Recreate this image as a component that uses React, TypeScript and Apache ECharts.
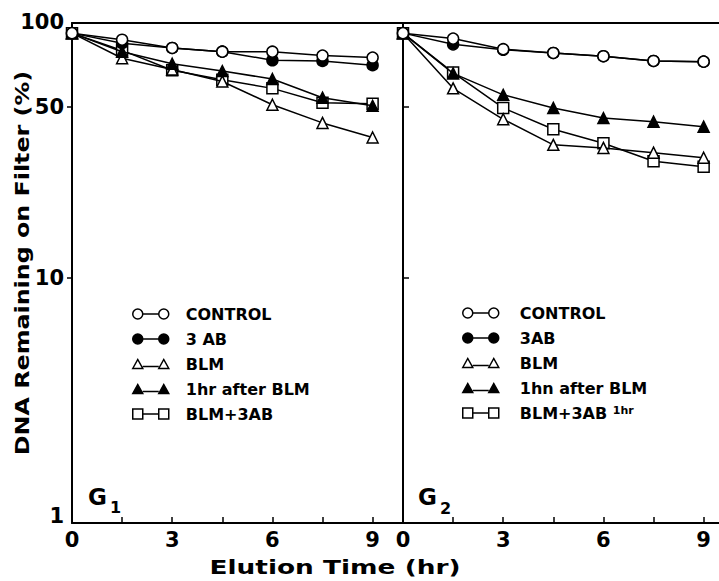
import React, { useEffect, useRef } from 'react';
import * as echarts from 'echarts';

// Elution times (hr)
const times = [0, 1.5, 3, 4.5, 6, 7.5, 9];

// G1 panel (% DNA remaining on filter)
const g1Control = [100, 94, 87, 84, 84, 81, 79.5];
const g1AB3 = [100, 91, 87, 84, 77.5, 77, 74];
const g1BLM = [100, 79, 71, 63.5, 51, 43, 37.5];
const g1After = [100, 84, 75, 70, 65, 54.5, 50.5];
const g1BLMAB = [100, 85, 70.5, 64.5, 59.5, 52, 51.5];

// G2 panel
const g2Control = [100, 95, 86, 83, 80.5, 77, 76.5];
const g2AB3 = [100, 90, 85.5, 83, 80.5, 77, 76.5];
const g2BLM = [100, 59.5, 44.5, 35, 34, 32.5, 31];
const g2After = [100, 68.5, 56, 49.5, 45, 43.5, 41.5];
const g2BLMAB = [100, 69, 49.5, 40.5, 35.5, 30, 28.5];

const g1Names = ['CONTROL', '3 AB', 'BLM', '1hr after BLM', 'BLM+3AB'];
const g2Names = ['CONTROL', '3AB', 'BLM', '1hn after BLM', 'BLM+3AB 1hr'];

// Tick labels
const xTickValues = [1.5, 3, 4.5, 6, 7.5, 9];
const xLabelValues = [0, 3, 6, 9];
const yTickValues = [10, 50, 100];
const yLabelValues = [1, 10, 50, 100];

const FONT = '"DejaVu Sans", "Liberation Sans", sans-serif';

const kinds = [
  { symbol: 'circle', fill: '#fff', size: 11, z: 6, icon: 'path://M0,5A5,5,0,1,1,10,5A5,5,0,1,1,0,5ZM10,5L26,5M26,5A5,5,0,1,1,36,5A5,5,0,1,1,26,5Z' },
  { symbol: 'circle', fill: '#000', size: 11, z: 5, icon: 'path://M0,5A5,5,0,1,1,10,5A5,5,0,1,1,0,5ZM10,5L26,5M26,5A5,5,0,1,1,36,5A5,5,0,1,1,26,5Z' },
  { symbol: 'triangle', fill: '#fff', size: 11, z: 3, icon: 'path://M0,10L5,1L10,10ZM10,8L26,8M26,10L31,1L36,10Z' },
  { symbol: 'triangle', fill: '#000', size: 11, z: 4, icon: 'path://M0,10L5,1L10,10ZM10,8L26,8M26,10L31,1L36,10Z' },
  { symbol: 'rect', fill: '#fff', size: 11, z: 2, icon: 'path://M0,0L10,0L10,10L0,10ZM10,5L26,5M26,0L36,0L36,10L26,10Z' },
];

function makeSeries(names: string[], values: number[][], axis: number) {
  return names.map((name, k) => ({
    name,
    type: 'line',
    xAxisIndex: axis,
    yAxisIndex: axis,
    data: times.map((t, i) => [t, values[k][i]]),
    symbol: kinds[k].symbol,
    symbolSize: kinds[k].size,
    showSymbol: true,
    z: kinds[k].z,
    lineStyle: { color: '#000', width: 1.5 },
    itemStyle: { color: kinds[k].fill, borderColor: '#000', borderWidth: 1.5 },
    emphasis: { disabled: true },
  }));
}

function legendData(names: string[]) {
  return names.map((name, k) => ({
    name,
    icon: kinds[k].icon,
    itemStyle: { color: kinds[k].fill, borderColor: '#000', borderWidth: 1.5 },
  }));
}

const axisTextStyle = { fontFamily: FONT, fontWeight: 'bold' as const, fontSize: 21, color: '#000' };

export default function App() {
  const ref = useRef<HTMLDivElement>(null);
  useEffect(() => {
    document.body.style.margin = '0';
    const chart = echarts.init(ref.current!, null, { renderer: 'svg' });
    const xBottom = (grid: number, max: number) => ({
      gridIndex: grid,
      type: 'value',
      position: 'bottom',
      min: 0,
      max,
      axisLine: { show: true, onZero: false, lineStyle: { color: '#000', width: 2 } },
      axisTick: { show: true, inside: true, length: 6, customValues: xTickValues, lineStyle: { color: '#000', width: 1.5 } },
      axisLabel: { ...axisTextStyle, margin: 6, customValues: xLabelValues },
      splitLine: { show: false },
    });
    const xTop = (grid: number, max: number) => ({
      gridIndex: grid,
      type: 'value',
      position: 'top',
      min: 0,
      max,
      axisLine: { show: true, onZero: false, lineStyle: { color: '#000', width: 2 } },
      axisTick: { show: false },
      axisLabel: { show: false },
      splitLine: { show: false },
    });
    const option: any = {
      animation: false,
      backgroundColor: '#fff',
      grid: [
        { left: 72, top: 23, width: 331, height: 500 },
        { left: 403, top: 23, width: 316, height: 500 },
      ],
      xAxis: [xBottom(0, 9.91), xBottom(1, 9.46), xTop(0, 9.91), xTop(1, 9.46)],
      yAxis: [
        {
          gridIndex: 0,
          type: 'log',
          logBase: 10,
          min: 1,
          max: 110,
          axisLine: { show: true, onZero: false, lineStyle: { color: '#000', width: 2 } },
          axisTick: { show: true, inside: false, length: 5, customValues: yTickValues, lineStyle: { color: '#000', width: 1.5 } },
          axisLabel: {
            ...axisTextStyle,
            margin: 8,
            customValues: yLabelValues,
            formatter: (v: number) => (v === 100 ? '{t|100}' : v === 1 ? '{o|1}' : String(v)),
            rich: {
              t: { ...axisTextStyle, padding: [0, 0, 22, 0] },
              o: { ...axisTextStyle, padding: [0, 0, 14, 0] },
            },
          },
          splitLine: { show: false },
          minorTick: { show: false },
        },
        {
          gridIndex: 1,
          type: 'log',
          logBase: 10,
          min: 1,
          max: 110,
          axisLine: { show: true, onZero: false, lineStyle: { color: '#000', width: 2 } },
          axisTick: { show: true, inside: true, length: 6, customValues: yTickValues, lineStyle: { color: '#000', width: 1.5 } },
          axisLabel: { show: false },
          splitLine: { show: false },
        },
      ],
      legend: [
        {
          orient: 'vertical',
          left: 132,
          top: 306,
          padding: 0,
          itemWidth: 36,
          itemHeight: 10,
          itemGap: 9,
          selectedMode: false,
          data: legendData(g1Names),
          textStyle: { fontFamily: FONT, fontWeight: 'bold', fontSize: 16, color: '#000', lineHeight: 16, padding: [0, 0, 0, 12] },
        },
        {
          orient: 'vertical',
          left: 462,
          top: 305,
          padding: 0,
          itemWidth: 36,
          itemHeight: 10,
          itemGap: 9,
          selectedMode: false,
          data: legendData(g2Names),
          formatter: (name: string) => (name === 'BLM+3AB 1hr' ? '{a|BLM+3AB} {b|1hr}' : name),
          textStyle: {
            fontFamily: FONT, fontWeight: 'bold', fontSize: 16, color: '#000', lineHeight: 16, padding: [0, 0, 0, 16],
            rich: {
              a: { fontFamily: FONT, fontWeight: 'bold', fontSize: 16, color: '#000', lineHeight: 16 },
              b: { fontFamily: FONT, fontWeight: 'bold', fontSize: 11, color: '#000', lineHeight: 16, verticalAlign: 'top' },
            },
          },
        },
      ],
      graphic: [
        {
          type: 'text',
          x: 22,
          y: 263,
          rotation: Math.PI / 2,
          scaleX: 1.19,
          style: { text: 'DNA Remaining on Filter (%)', fontFamily: FONT, fontWeight: 'bold', fontSize: 20, fill: '#000', align: 'center', verticalAlign: 'middle' },
        },
        {
          type: 'text',
          x: 335,
          y: 567,
          scaleX: 1.32,
          style: { text: 'Elution Time (hr)', fontFamily: FONT, fontWeight: 'bold', fontSize: 20, fill: '#000', align: 'center', verticalAlign: 'middle' },
        },
        { type: 'text', x: 88, y: 497, style: { text: 'G', fontFamily: FONT, fontWeight: 'bold', fontSize: 23, fill: '#000', align: 'left', verticalAlign: 'middle' } },
        { type: 'text', x: 110, y: 507, style: { text: '1', fontFamily: FONT, fontWeight: 'bold', fontSize: 16, fill: '#000', align: 'left', verticalAlign: 'middle' } },
        { type: 'text', x: 418, y: 497, style: { text: 'G', fontFamily: FONT, fontWeight: 'bold', fontSize: 23, fill: '#000', align: 'left', verticalAlign: 'middle' } },
        { type: 'text', x: 440, y: 508, style: { text: '2', fontFamily: FONT, fontWeight: 'bold', fontSize: 16, fill: '#000', align: 'left', verticalAlign: 'middle' } },
      ],
      series: [
        ...makeSeries(g1Names, [g1Control, g1AB3, g1BLM, g1After, g1BLMAB], 0),
        ...makeSeries(g2Names, [g2Control, g2AB3, g2BLM, g2After, g2BLMAB], 1),
      ],
    };
    chart.setOption(option);
    return () => chart.dispose();
  }, []);
  return <div ref={ref} style={{ width: 719, height: 581 }} />;
}
